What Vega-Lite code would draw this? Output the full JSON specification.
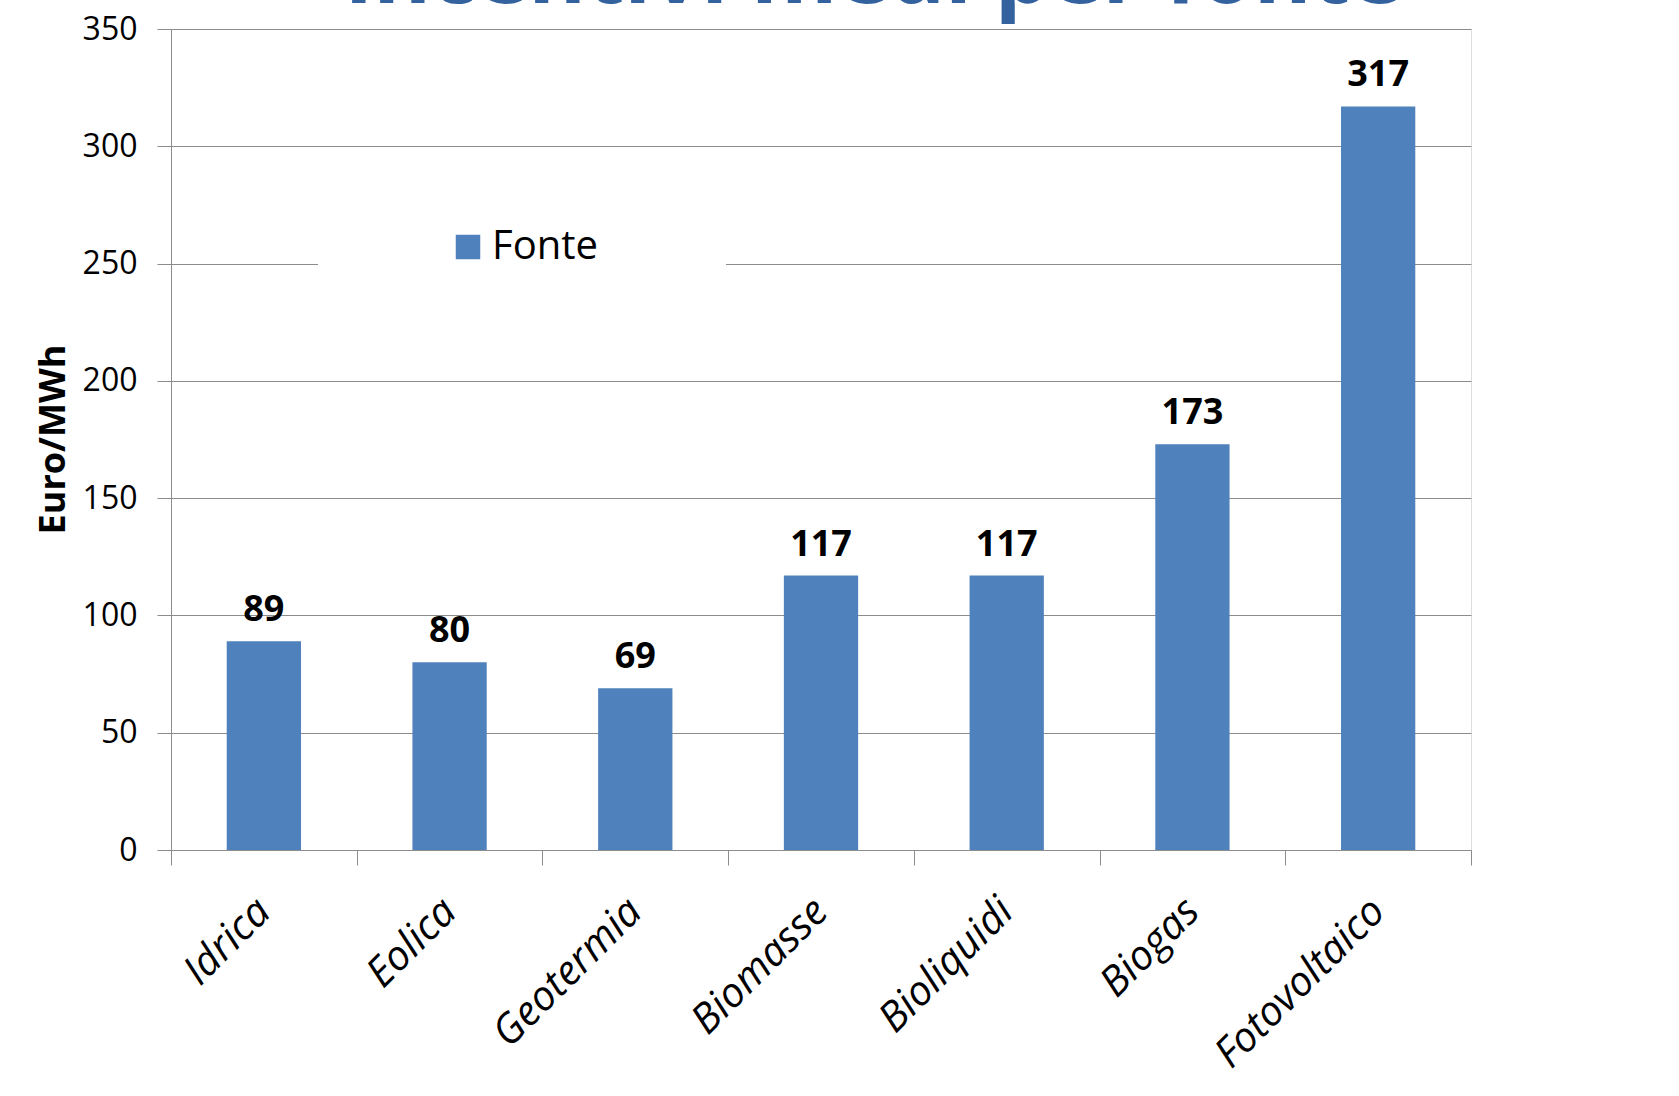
{
  "$schema": "https://vega.github.io/schema/vega-lite/v6.json",
  "autosize": {"type": "none"},
  "width": 1300,
  "height": 821,
  "padding": {"left": 171, "top": 29, "right": 208, "bottom": 246},
  "background": "white",
  "title": {
    "text": "Incentivi medi per fonte",
    "font": "Open Sans",
    "fontSize": 88,
    "fontWeight": "bold",
    "color": "#33629F",
    "anchor": "middle",
    "baseline": "alphabetic",
    "offset": 0,
    "dx": 52,
    "dy": 78
  },
  "data": {
    "values": [
      {"fonte": "Idrica", "valore": 89, "serie": "Fonte"},
      {"fonte": "Eolica", "valore": 80, "serie": "Fonte"},
      {"fonte": "Geotermia", "valore": 69, "serie": "Fonte"},
      {"fonte": "Biomasse", "valore": 117, "serie": "Fonte"},
      {"fonte": "Bioliquidi", "valore": 117, "serie": "Fonte"},
      {"fonte": "Biogas", "valore": 173, "serie": "Fonte"},
      {"fonte": "Fotovoltaico", "valore": 317, "serie": "Fonte"}
    ]
  },
  "encoding": {
    "x": {
      "field": "fonte",
      "type": "nominal",
      "sort": null,
      "scale": {"paddingInner": 0, "paddingOuter": 0},
      "axis": {
        "title": null,
        "labelAngle": -45,
        "labelAlign": "right",
        "labelBaseline": "middle",
        "labelFont": "Open Sans",
        "labelFontSize": 41,
        "labelFontStyle": "italic",
        "labelColor": "#000000",
        "labelPadding": 40,
        "labelLimit": 500,
        "tickBand": "extent",
        "tickSize": 15,
        "tickColor": "#8c8c8c",
        "domainColor": "#8c8c8c",
        "grid": false
      }
    },
    "y": {
      "field": "valore",
      "type": "quantitative",
      "scale": {"domain": [0, 350]},
      "axis": {
        "title": "Euro/MWh",
        "titleFont": "Open Sans",
        "titleFontSize": 36,
        "titleFontWeight": "bold",
        "titleColor": "#000000",
        "titleX": -118,
        "titleY": 410,
        "titleAlign": "center",
        "titleBaseline": "middle",
        "titleAngle": 270,
        "values": [0, 50, 100, 150, 200, 250, 300, 350],
        "labelFont": "Open Sans",
        "labelFontSize": 32,
        "labelColor": "#000000",
        "labelPadding": 20,
        "tickSize": 14,
        "tickColor": "#8c8c8c",
        "domainColor": "#8c8c8c",
        "gridColor": "#8c8c8c",
        "gridWidth": 1
      }
    }
  },
  "layer": [
    {
      "mark": {"type": "bar", "color": "#4F81BD", "width": {"band": 0.4}},
      "encoding": {
        "color": {
          "field": "serie",
          "type": "nominal",
          "scale": {"range": ["#4F81BD"]},
          "legend": {
            "title": null,
            "orient": "none",
            "legendX": 147,
            "legendY": 186,
            "padding": 12,
            "fillColor": "white",
            "symbolType": "square",
            "symbolSize": 600,
            "symbolStrokeWidth": 0,
            "symbolOffset": 118,
            "labelFont": "Open Sans",
            "labelFontSize": 40,
            "labelColor": "#000000",
            "labelOffset": 4,
            "labelLimit": 600,
            "labelExpr": "datum.label + '\u2800\u2800\u2800\u2800'"
          }
        }
      }
    },
    {
      "mark": {"type": "text", "baseline": "alphabetic", "dy": -20, "font": "Open Sans", "fontSize": 36, "fontWeight": "bold", "color": "#000000"},
      "encoding": {"text": {"field": "valore", "type": "quantitative"}}
    }
  ]
}
